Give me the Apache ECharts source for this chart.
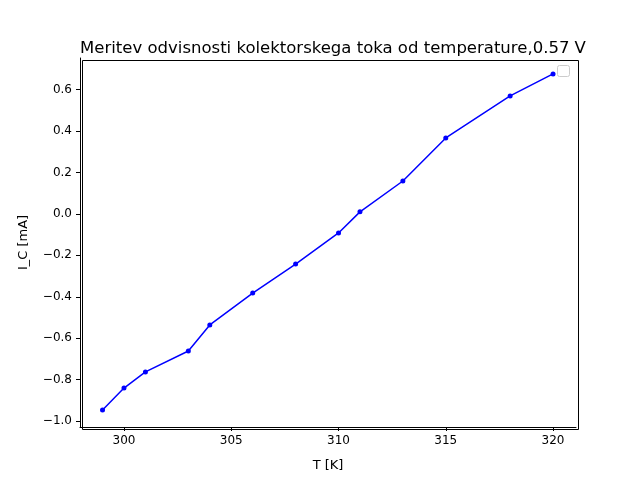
<!DOCTYPE html>
<html><head><meta charset="utf-8">
<script src="https://cdn.jsdelivr.net/npm/echarts@6/dist/echarts.min.js"></script>
<style>body{margin:0}#c{width:640px;height:480px}</style></head>
<body><div id="c"></div>
<script>
var temps = [299, 300, 301, 303, 304, 306, 308, 310, 311, 313, 315, 318, 320];
var current = [-0.947, -0.841, -0.763, -0.662, -0.536, -0.382, -0.242, -0.092, 0.01, 0.159, 0.367, 0.570, 0.676];
var xTicks = [300, 305, 310, 315, 320];
var yTicks = [-1.0, -0.8, -0.6, -0.4, -0.2, 0.0, 0.2, 0.4, 0.6];

var chart = echarts.init(document.getElementById('c'));
var font = 'DejaVu Sans';
function minus(s) { return s.replace('-', '\u2212'); }
chart.setOption({
    animation: false,
    backgroundColor: '#fff',
    textStyle: {fontFamily: font},
    title: {
        text: 'Meritev odvisnosti kolektorskega toka od temperature,0.57 V',
        left: 328, top: 35, textAlign: 'center',
        textStyle: {fontFamily: font, fontSize: 16.5, fontWeight: 'normal', color: '#000'}
    },
    grid: {left: 80, right: 64, top: 58, bottom: 53},
    xAxis: {
        type: 'value', min: 297.95, max: 321.07,
        name: 'T [K]', nameLocation: 'middle', nameGap: 32,
        nameTextStyle: {fontFamily: font, fontSize: 13, color: '#000'},
        axisLine: {onZero: false, lineStyle: {color: '#000'}},
        axisTick: {show: true, customValues: xTicks, length: 4, lineStyle: {color: '#000'}},
        axisLabel: {customValues: xTicks, fontFamily: font, fontSize: 12, color: '#000'},
        splitLine: {show: false}
    },
    yAxis: {
        type: 'value', min: -1.029, max: 0.753,
        name: 'I_C [mA]', nameLocation: 'middle', nameGap: 50,
        nameTextStyle: {fontFamily: font, fontSize: 13, color: '#000'},
        axisLine: {show: true, onZero: false, lineStyle: {color: '#000'}},
        axisTick: {show: true, customValues: yTicks, length: 4, lineStyle: {color: '#000'}},
        axisLabel: {customValues: yTicks, fontFamily: font, fontSize: 12, color: '#000',
            formatter: function (v) { return minus(v.toFixed(1)); }},
        splitLine: {show: false}
    },
    graphic: [
        {type: 'rect', left: 80, top: 58, shape: {width: 496, height: 369}, style: {fill: 'none', stroke: '#000', lineWidth: 1}, silent: true},
        {type: 'rect', left: 557, top: 65, shape: {width: 12, height: 11, r: 2}, style: {fill: '#fff', stroke: '#ccc', lineWidth: 1}, silent: true}
    ],
    series: [{
        type: 'line',
        data: temps.map(function (t, i) { return [t, current[i]]; }),
        symbol: 'circle', symbolSize: 5,
        itemStyle: {color: '#0000ff'},
        lineStyle: {color: '#0000ff', width: 1.5}
    }]
});
</script></body></html>
